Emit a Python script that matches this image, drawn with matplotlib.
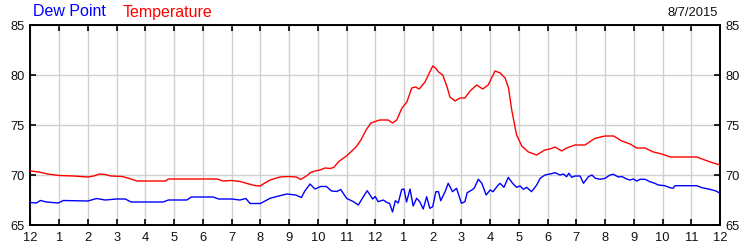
import matplotlib
matplotlib.use("Agg")
import matplotlib.pyplot as plt
import numpy as np

plt.rcParams['font.family'] = ['Liberation Sans', 'DejaVu Sans']

# ---- data ----
temp_hours = [0.0, 0.3, 0.6, 1.0, 1.5, 2.0, 2.2, 2.4, 2.6, 2.8, 3.2, 3.5, 3.7, 4.7, 4.8,
              6.5, 6.7, 7.0, 7.3, 7.6, 7.8, 8.0, 8.1, 8.34, 8.68, 9.0, 9.25, 9.4, 9.63,
              9.75, 9.9, 10.08, 10.25, 10.43, 10.55, 10.75, 11.0, 11.33, 11.5, 11.68,
              11.85, 12.15, 12.45, 12.6, 12.75, 12.93, 13.1, 13.27, 13.4, 13.53, 13.73,
              14.0, 14.1, 14.2, 14.35, 14.5, 14.6, 14.78, 14.95, 15.12, 15.3, 15.53,
              15.74, 15.93, 16.17, 16.35, 16.52, 16.64, 16.75, 16.92, 17.1, 17.33,
              17.62, 17.9, 18.08, 18.26, 18.49, 18.66, 18.95, 19.3, 19.65, 20.0, 20.3,
              20.58, 20.87, 21.1, 21.39, 21.68, 21.97, 22.27, 23.19, 23.66, 24.0]
temperature = [70.4, 70.3, 70.1, 69.95, 69.9, 69.8, 69.9, 70.1, 70.05, 69.9, 69.85, 69.6,
               69.4, 69.4, 69.6, 69.6, 69.4, 69.45, 69.35, 69.1, 68.95, 68.9, 69.1, 69.5,
               69.8, 69.85, 69.8, 69.55, 69.95, 70.25, 70.4, 70.5, 70.7, 70.65, 70.75,
               71.4, 71.9, 72.8, 73.5, 74.5, 75.2, 75.5, 75.5, 75.2, 75.5, 76.7, 77.3,
               78.7, 78.8, 78.6, 79.3, 80.9, 80.7, 80.3, 80.0, 78.8, 77.8, 77.4, 77.7,
               77.7, 78.4, 79.0, 78.6, 79.0, 80.4, 80.2, 79.7, 78.7, 76.5, 74.0, 72.9,
               72.3, 72.0, 72.5, 72.6, 72.8, 72.4, 72.7, 73.0, 73.0, 73.67, 73.9, 73.9,
               73.4, 73.1, 72.7, 72.7, 72.3, 72.1, 71.8, 71.8, 71.3, 71.0]

dew_hours = [0.0, 0.2, 0.35, 0.55, 0.97, 1.14, 2.0, 2.3, 2.6, 3.0, 3.3, 3.5, 4.62, 4.8,
             5.44, 5.6, 6.36, 6.55, 7.0, 7.29, 7.5, 7.64, 8.0, 8.34, 8.57, 8.92, 9.23,
             9.43, 9.55, 9.73, 9.9, 10.1, 10.3, 10.48, 10.66, 10.8, 11.0, 11.24, 11.41,
             11.58, 11.72, 11.91, 12.0, 12.1, 12.28, 12.42, 12.5, 12.6, 12.7, 12.8,
             12.92, 13.0, 13.09, 13.21, 13.32, 13.44, 13.55, 13.67, 13.79, 13.9, 14.0,
             14.11, 14.2, 14.28, 14.43, 14.54, 14.69, 14.83, 15.0, 15.12, 15.2, 15.36,
             15.44, 15.59, 15.71, 15.86, 16.0, 16.1, 16.28, 16.34, 16.48, 16.63, 16.78,
             16.92, 17.04, 17.16, 17.27, 17.44, 17.62, 17.74, 17.91, 18.08, 18.26,
             18.43, 18.55, 18.66, 18.74, 18.84, 18.95, 19.13, 19.25, 19.42, 19.54,
             19.66, 19.83, 20.0, 20.17, 20.29, 20.46, 20.58, 20.75, 20.87, 20.98, 21.1,
             21.22, 21.39, 21.56, 21.73, 21.85, 22.08, 22.26, 22.37, 22.43, 22.66,
             23.19, 23.37, 23.6, 23.86, 24.0]
dew_point = [67.25, 67.2, 67.45, 67.3, 67.2, 67.45, 67.4, 67.65, 67.5, 67.6, 67.6, 67.3,
             67.3, 67.5, 67.5, 67.8, 67.8, 67.6, 67.6, 67.5, 67.65, 67.15, 67.15, 67.67,
             67.85, 68.1, 68.0, 67.75, 68.4, 69.1, 68.6, 68.85, 68.85, 68.4, 68.35,
             68.55, 67.67, 67.33, 67.0, 67.8, 68.43, 67.6, 67.85, 67.33, 67.5, 67.23,
             67.17, 66.3, 67.43, 67.2, 68.55, 68.6, 67.3, 68.6, 66.9, 67.67, 67.33, 66.6,
             67.83, 66.67, 66.83, 68.33, 68.33, 67.43, 68.33, 69.17, 68.33, 68.67, 67.17,
             67.33, 68.23, 68.5, 68.67, 69.57, 69.17, 68.0, 68.5, 68.33, 69.0, 69.17,
             68.77, 69.77, 69.17, 68.77, 68.9, 68.57, 68.77, 68.33, 69.0, 69.67, 70.0,
             70.1, 70.23, 70.0, 70.1, 69.83, 70.17, 69.77, 69.9, 69.9, 69.17, 69.83, 70.0,
             69.67, 69.57, 69.67, 70.0, 70.07, 69.8, 69.85, 69.6, 69.5, 69.6, 69.4, 69.57,
             69.57, 69.33, 69.17, 69.0, 68.93, 68.73, 68.67, 68.93, 68.93, 68.93, 68.73,
             68.6, 68.4, 68.17]

hour_labels = ['12', '1', '2', '3', '4', '5', '6', '7', '8', '9', '10', '11',
               '12', '1', '2', '3', '4', '5', '6', '7', '8', '9', '10', '11', '12']
y_ticks = [65, 70, 75, 80, 85]
date_text = '8/7/2015'

# ---- figure ----
fig = plt.figure(figsize=(7.5, 2.5), dpi=100)
ax = fig.add_axes([30.5 / 750, 0.1, (720 - 30.5) / 750, 0.8])

ax.plot(dew_hours, dew_point, color='#0000ff', lw=1.0, zorder=3)
ax.plot(temp_hours, temperature, color='#ff0000', lw=1.0, zorder=3)

ax.set_xlim(0, 24)
ax.set_ylim(65, 85)
ax.set_xticks(np.arange(len(hour_labels)))
ax.set_xticklabels(hour_labels)
ax.set_yticks(y_ticks)
ax.set_yticklabels([str(v) for v in y_ticks])

ax.grid(True, color='#d0d0d0', lw=1.0, zorder=0)
ax.set_axisbelow(True)

ax.tick_params(axis='both', direction='in', length=4, width=1.2, color='black',
               labelsize=9.3, labelcolor='#111111', top=True, right=True,
               labelright=True)
ax.tick_params(axis='x', pad=5)
ax.tick_params(axis='y', pad=4)
for s in ax.spines.values():
    s.set_linewidth(1.4)
    s.set_color('black')

fig.text(33 / 750, 1 - 12 / 250, 'Dew Point', color='#0000ff', fontsize=11.5,
         ha='left', va='center')
fig.text(123 / 750, 1 - 12 / 250, 'Temperature', color='#ff0000', fontsize=11.5,
         ha='left', va='center')
fig.text(718 / 750, 1 - 12.5 / 250, date_text, color='#111111', fontsize=9.3,
         ha='right', va='center')

fig.savefig('out.png', dpi=100)
